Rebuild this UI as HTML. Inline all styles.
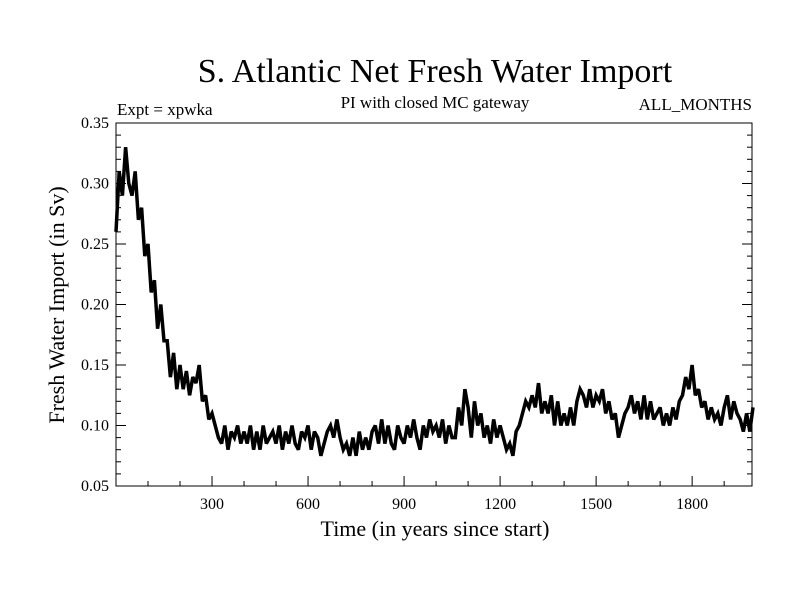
<!DOCTYPE html>
<html><head><meta charset="utf-8"><style>
html,body{margin:0;padding:0;background:#fff;}
svg{display:block;font-family:"Liberation Serif",serif;}
</style></head><body>
<svg id="chart" width="800" height="600" viewBox="0 0 800 600">
<rect width="800" height="600" fill="#fff"/>
<text x="435" y="82" font-size="34" text-anchor="middle">S. Atlantic Net Fresh Water Import</text>
<text x="117" y="115" font-size="17">Expt = xpwka</text>
<text x="435" y="108" font-size="17" text-anchor="middle">PI with closed MC gateway</text>
<text x="752" y="110" font-size="17" text-anchor="end">ALL_MONTHS</text>
<text transform="translate(64,305) rotate(-90)" font-size="22" text-anchor="middle">Fresh Water Import (in Sv)</text>
<text x="435" y="536" font-size="22" text-anchor="middle">Time (in years since start)</text>
<g id="axes"></g>
<g id="series"></g>
</svg>
<script>
const years0 = 0, yearStep = 10;
const seriesValues = [
.26,.31,.29,.33,.30,.29,.31,.27,.28,.24,
.25,.21,.22,.18,.20,.17,.17,.14,.16,.13,
.15,.13,.145,.125,.14,.135,.15,.12,.125,.105,
.11,.10,.09,.085,.10,.08,.095,.09,.10,.085,
.095,.085,.10,.08,.095,.08,.10,.085,.09,.095,
.085,.10,.08,.095,.085,.10,.085,.08,.095,.09,
.10,.08,.095,.09,.075,.085,.095,.10,.09,.105,
.09,.08,.085,.075,.09,.075,.095,.08,.09,.08,
.095,.10,.085,.105,.085,.10,.085,.08,.10,.09,
.085,.10,.09,.105,.09,.08,.10,.09,.105,.095,
.10,.09,.105,.085,.10,.09,.09,.115,.10,.13,
.115,.09,.12,.10,.11,.09,.10,.085,.105,.09,
.10,.09,.08,.085,.075,.095,.10,.11,.12,.115,
.125,.115,.135,.11,.12,.11,.125,.10,.12,.10,
.11,.10,.115,.10,.12,.13,.125,.115,.13,.115,
.125,.12,.13,.11,.12,.105,.11,.09,.10,.11,
.115,.125,.11,.12,.105,.125,.105,.12,.105,.11,
.115,.10,.11,.10,.115,.105,.12,.125,.14,.13,
.15,.125,.13,.115,.12,.105,.115,.105,.11,.10,
.115,.125,.105,.12,.11,.105,.095,.11,.095,.115
];
const xTickValues = [300,600,900,1200,1500,1800];
const xTickLabels = ["300","600","900","1200","1500","1800"];
const yTickValues = [0.05,0.10,0.15,0.20,0.25,0.30,0.35];
const yTickLabels = ["0.05","0.10","0.15","0.20","0.25","0.30","0.35"];

const L=116,R=752,T=123,B=486, X0=0,X1=1987, Y0=0.05,Y1=0.35;
const xs=v=>L+(v-X0)/(X1-X0)*(R-L);
const ys=v=>B-(v-Y0)/(Y1-Y0)*(B-T);
const NS="http://www.w3.org/2000/svg";
const axes=document.getElementById('axes'), ser=document.getElementById('series');
function mk(tag,attrs,parent){const e=document.createElementNS(NS,tag);for(const k in attrs)e.setAttribute(k,attrs[k]);parent.appendChild(e);return e;}

const frame=mk('rect',{x:L,y:T,width:R-L,height:B-T,fill:'none',stroke:'#000','stroke-width':1},axes);



for(let v=100; v<X1; v+=100){
  const major = xTickValues.includes(v);
  const t=mk('line',{x1:xs(v),x2:xs(v),y1:B,y2:B-(major?10:5),stroke:'#000'},axes);
  
  
}
xTickValues.forEach((v,i)=>{
  const t=mk('text',{x:xs(v),y:B+23,'font-size':16,'text-anchor':'middle'},axes);
  t.textContent=xTickLabels[i];
  
  
});
for(let k=5;k<=35;k++){
  const v=k/100, major=(k%5===0);
  const t=mk('line',{x1:L,x2:L+(major?10:5),y1:ys(v),y2:ys(v),stroke:'#000'},axes);
  
  
  const t2=mk('line',{x1:R,x2:R-(major?10:5),y1:ys(v),y2:ys(v),stroke:'#000'},axes);
  
  
}
yTickValues.forEach((v,i)=>{
  const t=mk('text',{x:L-7,y:ys(v)+5,'font-size':16,'text-anchor':'end'},axes);
  t.textContent=yTickLabels[i];
  
  
});
const pts=seriesValues.map((v,i)=>xs(years0+i*yearStep).toFixed(1)+','+ys(v).toFixed(1)).join(' ');
const line=mk('polyline',{points:pts,fill:'none',stroke:'#000','stroke-width':3.5,'stroke-linejoin':'miter','stroke-miterlimit':3},ser);


</script>
</body></html>
